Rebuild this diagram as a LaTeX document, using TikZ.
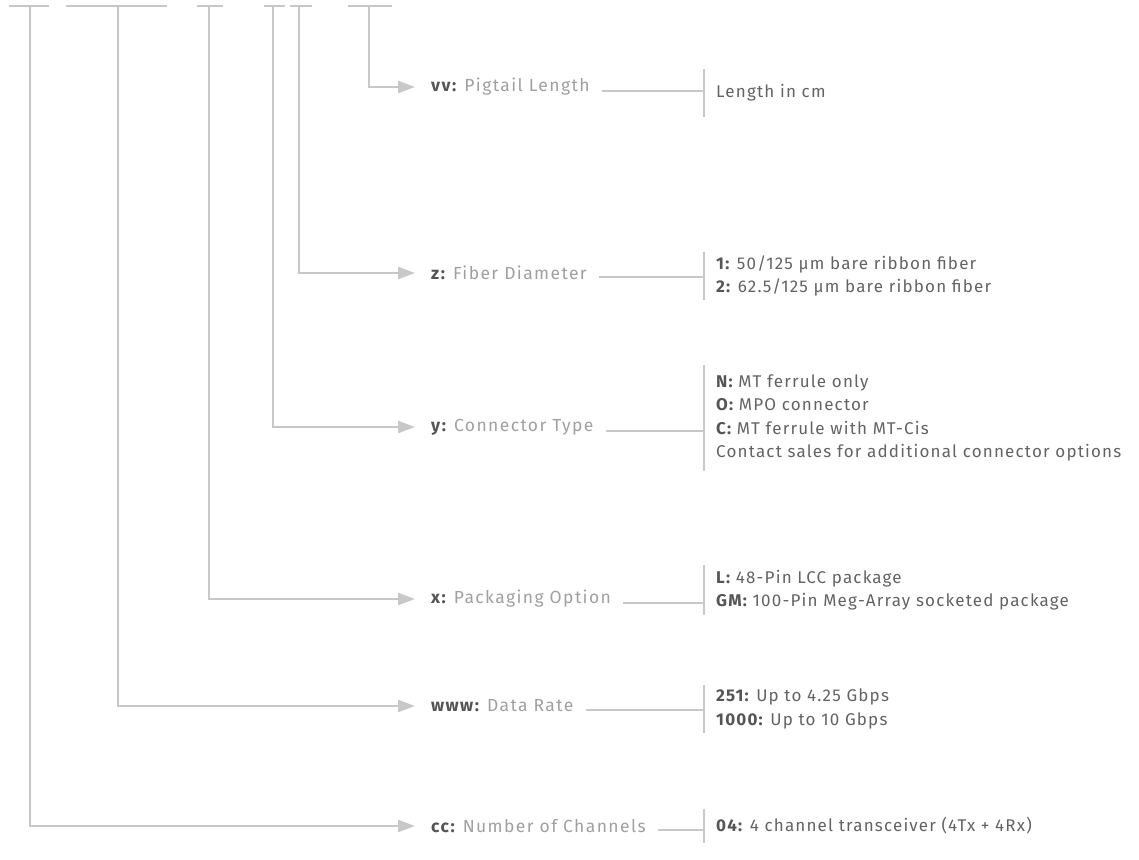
\documentclass[tikz,border=0pt]{standalone}
\usepackage{fontspec}
\setmainfont{Fira Sans}
\usepackage{xcolor}
\usetikzlibrary{arrows.meta}

\definecolor{rulegray}{HTML}{C8C8C8}
\definecolor{keygray}{HTML}{555555}
\definecolor{namegray}{HTML}{A0A0A0}
\definecolor{optgray}{HTML}{636363}
\newcommand{\optkey}[1]{{\bfseries\color{keygray}#1}}

\begin{document}
\begin{tikzpicture}[x=1pt,y=-1pt,
  rule/.style={draw=rulegray,line width=2.4pt},
  lead/.style={rule,-{Triangle[length=17pt,width=12pt,fill=rulegray]}},
  field/.style={anchor=west,inner sep=0pt,text=namegray,font=\fontsize{17.5}{23}\selectfont\addfontfeature{LetterSpace=8}},
  choice/.style={anchor=west,inner xsep=0pt,inner ysep=0pt,align=left,text=optgray,font=\fontsize{17}{23.3}\selectfont\addfontfeature{LetterSpace=7}}]
  \useasboundingbox (0,0) rectangle (1139,859);
  \foreach \n/\xl/\xr/\xv/\yr/\yo/\mh/\fkey/\fname/\fopts in {
    vv/348/392/369/87/93/48/vv/{Pigtail Length}/{Length in cm},
    z/290/312/299/273/276/48/z/{Fiber Diameter}/{\optkey{1:} 50/125 µm bare ribbon fiber\\\optkey{2:} 62.5/125 µm bare ribbon fiber},
    y/264/285/273/427/418/106/y/{Connector Type}/{\optkey{N:} MT ferrule only\\\optkey{O:} MPO connector\\\optkey{C:} MT ferrule with MT-Cis\\Contact sales for additional connector options},
    x/197/223/209/599/590/50/x/{Packaging Option}/{\optkey{L:} 48-Pin LCC package\\\optkey{GM:} 100-Pin Meg-Array socketed package},
    w/66/167/118/706/709/48/www/{Data Rate}/{\optkey{251:} Up to 4.25 Gbps\\\optkey{1000:} Up to 10 Gbps},
    c/9/49/30/826/826/34/cc/{Number of Channels}/{\optkey{04:} 4 channel transceiver (4Tx + 4Rx)}} {
    \coordinate (t\n) at (\xv,6);
    \draw[rule] (\xl,6) -- (\xr,6);
    \node[field] (l\n) at (431,\yr) {\textbf{\color{keygray}\fkey:} \fname};
    \node[choice,minimum height=\mh] (o\n) at (716,\yo) {\fopts};
    \coordinate (j\n) at ([xshift=-12pt]o\n.west);
    \draw[lead] (t\n) |- ([xshift=-16pt]l\n.west);
    \draw[rule] ([xshift=12pt,yshift=-4pt]l\n.east) -- ([yshift=-4pt]l\n.east -| j\n);
    \draw[rule] ([xshift=-12pt]o\n.north west) -- ([xshift=-12pt]o\n.south west);
  }
\end{tikzpicture}
\end{document}
